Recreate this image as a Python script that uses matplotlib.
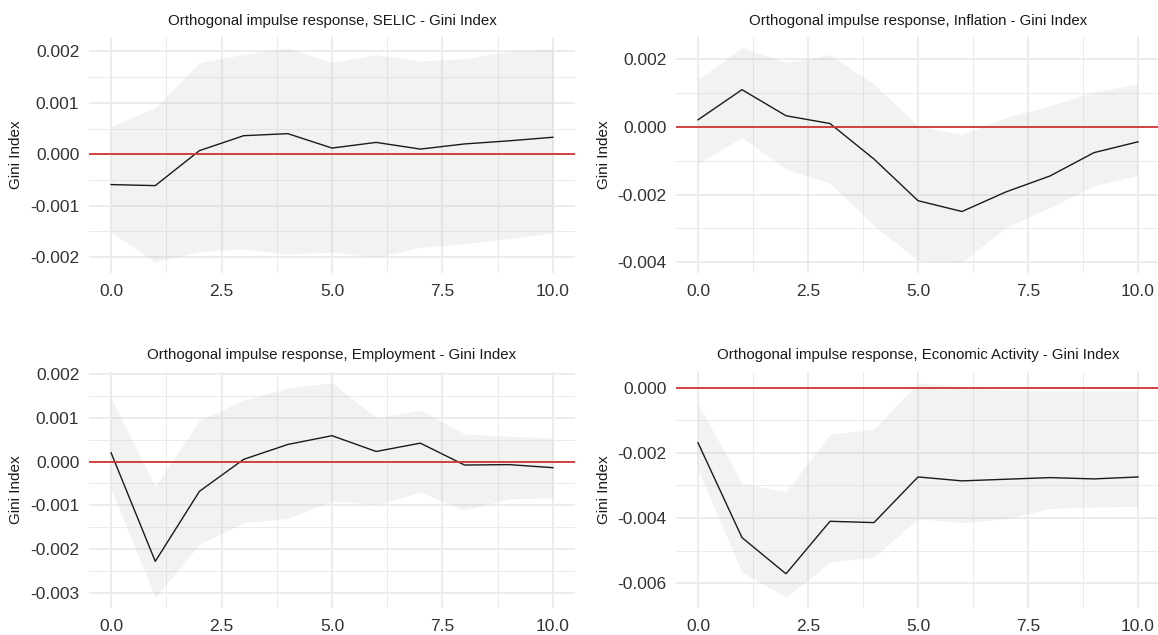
import numpy as np
import matplotlib
matplotlib.use("Agg")
import matplotlib.pyplot as plt

plt.rcParams['font.family'] = ['Liberation Sans', 'DejaVu Sans']

steps = np.arange(0, 11)

titles = ["Orthogonal impulse response, SELIC - Gini Index",
          "Orthogonal impulse response, Inflation - Gini Index",
          "Orthogonal impulse response, Employment - Gini Index",
          "Orthogonal impulse response, Economic Activity - Gini Index"]

# point estimates
selic_irf = [-0.00059, -0.00061, 0.00007, 0.00036, 0.00040, 0.00012, 0.00023, 0.00010, 0.00020, 0.00026, 0.00033]
infl_irf = [0.00021, 0.00110, 0.00033, 0.00010, -0.00095, -0.00218, -0.00250, -0.00192, -0.00145, -0.00076, -0.00044]
empl_irf = [0.00020, -0.00228, -0.00068, 0.00005, 0.00039, 0.00059, 0.00023, 0.00042, -0.00008, -0.00007, -0.00014]
econ_irf = [-0.00169, -0.00460, -0.00571, -0.00410, -0.00414, -0.00274, -0.00286, -0.00281, -0.00276, -0.00280, -0.00274]

# upper bounds
selic_up = [0.00054, 0.00090, 0.00178, 0.00194, 0.00207, 0.00178, 0.00194, 0.00181, 0.00186, 0.00200, 0.00205]
infl_up = [0.00140, 0.00234, 0.00190, 0.00214, 0.00126, 0.00003, -0.00022, 0.00028, 0.00062, 0.00103, 0.00126]
empl_up = [0.00146, -0.00057, 0.00094, 0.00140, 0.00168, 0.00180, 0.00100, 0.00117, 0.00063, 0.00058, 0.00054]
econ_up = [-0.00050, -0.00294, -0.00320, -0.00143, -0.00128, 0.00015, 0.00003, -0.00008, -0.00010, -0.00010, -0.00010]

# lower bounds
selic_lo = [-0.00151, -0.00210, -0.00189, -0.00184, -0.00194, -0.00190, -0.00201, -0.00181, -0.00174, -0.00164, -0.00153]
infl_lo = [-0.00110, -0.00030, -0.00125, -0.00166, -0.00292, -0.00395, -0.00400, -0.00297, -0.00238, -0.00174, -0.00143]
empl_lo = [-0.00064, -0.00310, -0.00189, -0.00140, -0.00130, -0.00090, -0.00098, -0.00070, -0.00111, -0.00085, -0.00083]
econ_lo = [-0.00253, -0.00566, -0.00643, -0.00535, -0.00520, -0.00402, -0.00414, -0.00402, -0.00371, -0.00366, -0.00364]

irfs = [selic_irf, infl_irf, empl_irf, econ_irf]
uppers = [selic_up, infl_up, empl_up, econ_up]
lowers = [selic_lo, infl_lo, empl_lo, econ_lo]
y_steps = [0.001, 0.002, 0.001, 0.002]

W, H = 1158, 635
fig = plt.figure(figsize=(W / 100, H / 100), dpi=100)

# axes boxes in pixels: left, top, right, bottom
boxes = [(89, 37, 575, 273), (676, 37, 1160, 273),
         (89, 372, 575, 608), (676, 372, 1160, 608)]

for i in range(4):
    l, t, r, b = boxes[i]
    ax = fig.add_axes([l / W, 1 - b / H, (r - l) / W, (b - t) / H])
    for s in ax.spines.values():
        s.set_visible(False)

    # ggplot-like 5% expansion, zero line included
    lo = min(min(lowers[i]), 0)
    hi = max(max(uppers[i]), 0)
    pad = 0.05 * (hi - lo)
    ax.set_ylim(lo - pad, hi + pad)
    ax.set_xlim(-0.5, 10.5)

    st = y_steps[i]
    major = np.arange(np.ceil((lo - pad) / st) * st, hi + pad + 1e-12, st)
    minor = major[:-1] + st / 2
    ax.set_yticks(major)
    ax.set_yticks(minor, minor=True)
    ax.set_yticklabels(["%.3f" % v if abs(v) > 1e-12 else "0.000" for v in major])
    ax.set_xticks([0, 2.5, 5, 7.5, 10])
    ax.set_xticks([1.25, 3.75, 6.25, 8.75], minor=True)
    ax.set_xticklabels(["0.0", "2.5", "5.0", "7.5", "10.0"])

    ax.grid(which='major', color='#ebebeb', linewidth=1.3)
    ax.grid(which='minor', color='#ebebeb', linewidth=0.7)
    ax.set_axisbelow(True)
    ax.tick_params(which='both', length=0)
    ax.tick_params(axis='both', labelsize=12.5, labelcolor='#333333')
    ax.tick_params(axis='y', pad=7)
    ax.tick_params(axis='x', pad=8)

    ax.fill_between(steps, lowers[i], uppers[i], color='#bebebe', alpha=0.2, linewidth=0)
    ax.plot(steps, irfs[i], color='#1a1a1a', linewidth=1.0)
    ax.axhline(0, color='#d03535', linewidth=1.3)

    ax.set_title(titles[i], fontsize=10.8, color='#1a1a1a', pad=9)
    ax.set_ylabel("Gini Index", fontsize=11, color='#1a1a1a')
    ax.yaxis.set_label_coords(-0.135, 0.5)

fig.savefig("out.png", dpi=100)
